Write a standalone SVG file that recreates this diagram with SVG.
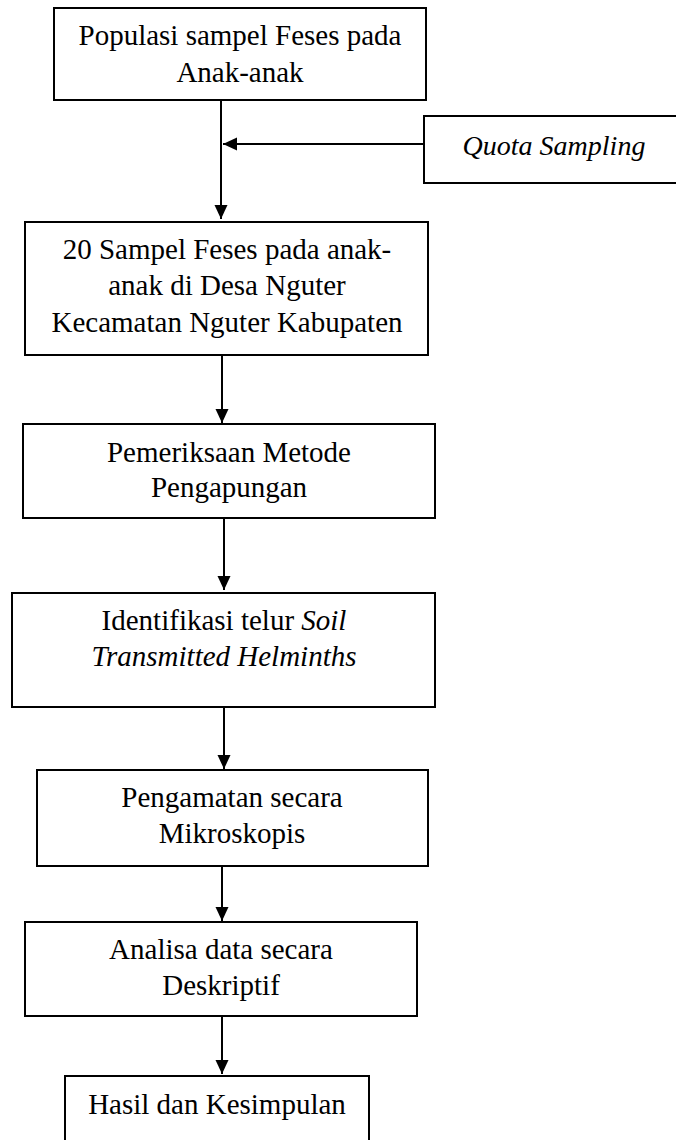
<svg xmlns="http://www.w3.org/2000/svg" width="676" height="1140" viewBox="0 0 676 1140">
<style>
.box{fill:#fff;stroke:#000;stroke-width:2}
.t{font-family:"Liberation Serif","Times New Roman",serif;font-size:29px;fill:#000;text-anchor:middle}
.i{font-style:italic}
.c{stroke:#000;stroke-width:2;fill:none;marker-end:url(#ah)}
</style>
<defs>
<marker id="ah" markerUnits="userSpaceOnUse" markerWidth="15" markerHeight="14" refX="14" refY="6.5" orient="auto">
<path d="M0,0 L14,6.5 L0,13 z" fill="#000"/>
</marker>
</defs>
<g id="connectors">
<path class="c" d="M221,100 L221,219"/>
<path class="c" d="M424,144 L223,144"/>
<path class="c" d="M222,355 L222,423"/>
<path class="c" d="M224,518 L224,590"/>
<path class="c" d="M224,707 L224,769"/>
<path class="c" d="M222,866 L222,921"/>
<path class="c" d="M222,1016 L222,1074"/>
</g>
<g id="n1">
<rect class="box" x="54" y="8" width="372" height="92"/>
<text class="t" x="240" y="45">Populasi sampel Feses pada</text>
<text class="t" x="240" y="82">Anak-anak</text>
</g>
<g id="quota">
<rect class="box" x="424" y="116" width="270" height="67"/>
<text class="t i" x="554" y="155" style="font-size:28px">Quota Sampling</text>
</g>
<g id="n2">
<rect class="box" x="25" y="222" width="403" height="133"/>
<text class="t" x="227" y="259">20 Sampel Feses pada anak-</text>
<text class="t" x="227" y="295">anak di Desa Nguter</text>
<text class="t" x="227" y="332">Kecamatan Nguter Kabupaten</text>
</g>
<g id="n3">
<rect class="box" x="23" y="424" width="412" height="94"/>
<text class="t" x="229" y="462">Pemeriksaan Metode</text>
<text class="t" x="229" y="497">Pengapungan</text>
</g>
<g id="n4">
<rect class="box" x="12" y="593" width="423" height="114"/>
<text class="t" x="224" y="630">Identifikasi telur <tspan class="i">Soil</tspan></text>
<text class="t i" x="224" y="666">Transmitted Helminths</text>
</g>
<g id="n5">
<rect class="box" x="37" y="770" width="391" height="96"/>
<text class="t" x="232" y="807">Pengamatan secara</text>
<text class="t" x="232" y="843">Mikroskopis</text>
</g>
<g id="n6">
<rect class="box" x="25" y="922" width="392" height="94"/>
<text class="t" x="221" y="959">Analisa data secara</text>
<text class="t" x="221" y="995">Deskriptif</text>
</g>
<g id="n7">
<rect class="box" x="65" y="1076" width="304" height="80"/>
<text class="t" x="217" y="1114">Hasil dan Kesimpulan</text>
</g>
</svg>
